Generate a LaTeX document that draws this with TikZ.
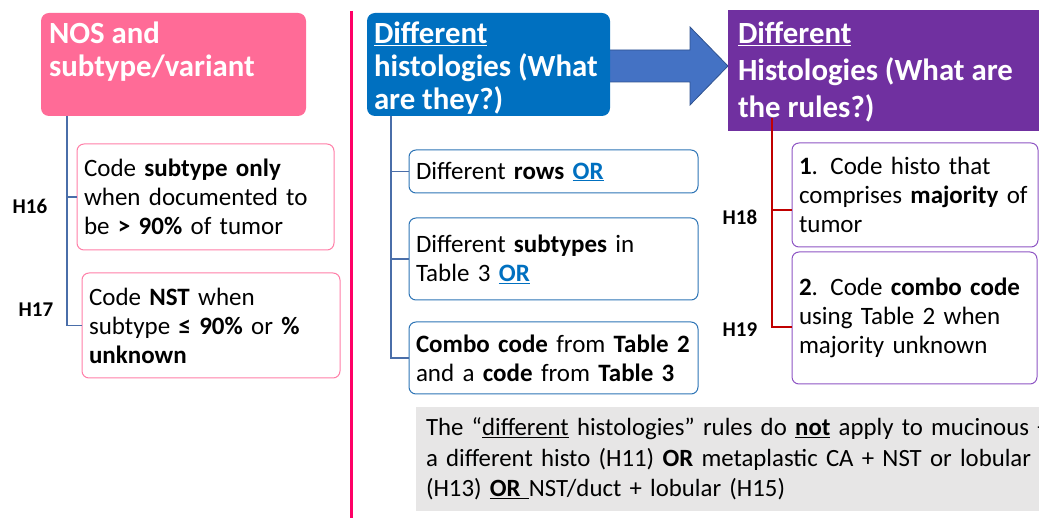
\documentclass[tikz,border=0pt]{standalone}
\usepackage{fontspec}
\setmainfont{Carlito}
\usetikzlibrary{calc}
\definecolor{pinkhdr}{HTML}{FF6B97}
\definecolor{pinkline}{HTML}{FF7FA8}
\definecolor{divider}{HTML}{FF0066}
\definecolor{bluehdr}{HTML}{0070C0}
\definecolor{blueline}{HTML}{2E75B6}
\definecolor{arrowblue}{HTML}{4472C4}
\definecolor{arrowedge}{HTML}{2F528F}
\definecolor{purplehdr}{HTML}{7030A0}
\definecolor{purpleline}{HTML}{8E55C4}
\definecolor{connblue}{HTML}{4A6EA9}
\definecolor{connred}{HTML}{C00000}
\definecolor{notegray}{HTML}{E7E6E6}
\definecolor{orblue}{HTML}{0070C0}
\begin{document}
\begin{tikzpicture}[x=1pt,y=-1pt,
  every node/.style={inner sep=0pt, outer sep=0pt},
  bodyfont/.style={font=\fontsize{25}{29}\selectfont},
  box/.style={draw, line width=1pt, fill=white, rounded corners=7pt, anchor=north west, align=left, inner xsep=7pt, bodyfont},
  pinkbox/.style={box, draw=pinkline},
  bluebox/.style={box, draw=blueline},
  purplebox/.style={box, draw=purpleline},
  hdrtext/.style={anchor=north west, align=left, text=white, font=\fontsize{30.8}{33}\selectfont\bfseries},
  rulelabel/.style={font=\fontsize{21}{24}\selectfont\bfseries},
  conn/.style={draw=connblue, line width=1.3pt},
  redconn/.style={draw=connred, line width=2.4pt},
]
\useasboundingbox (0,0) rectangle (1039,518);

% divider
\draw[line width=3pt, draw=divider] (351.5,11) -- (351.5,518);

% big arrow
\path[fill=arrowblue, draw=arrowedge, line width=0.8pt]
  (600,50) -- (690,50) -- (690,27) -- (728,66) -- (690,105) -- (690,82) -- (600,82) -- cycle;

% headers
\node[fill=pinkhdr, rounded corners=8pt, minimum width=265pt, minimum height=103pt, anchor=north west] (nos) at (41,13) {};
\node[hdrtext] (nost) at (49,22) {NOS and\\subtype/variant};

\node[fill=bluehdr, rounded corners=8pt, minimum width=243pt, minimum height=103pt, anchor=north west] (dh) at (367,13) {};
\node[hdrtext] (dht) at (374,22) {\underline{Different}\\histologies (What\\are they?)};

\node[fill=purplehdr, minimum width=320pt, minimum height=121pt, anchor=north west] (dr) at (728,10) {};
\node[hdrtext, font=\fontsize{30.8}{37}\selectfont\bfseries] (drt) at (738,22) {\underline{Different}\\Histologies (What are\\the rules?)};

% left boxes
\node[pinkbox, minimum width=257pt, minimum height=106pt, text width=243pt] (h16) at (77,144)
  {Code \textbf{subtype only}\\when documented to\\be \textbf{> 90\%} of tumor};
\node[pinkbox, minimum width=258pt, minimum height=105pt, text width=244pt] (h17) at (82,273)
  {Code \textbf{NST} when\\subtype \textbf{≤ 90\%} or \textbf{\%}\\\textbf{unknown}};

\draw[conn] ($(nos.south west)+(26,0)$) |- (h16.west);
\draw[conn] ($(nos.south west)+(26,0)$) |- (h17.west);

\node[rulelabel] (l16) at (30,206) {H16};
\node[rulelabel] (l17) at (36,310) {H17};

% middle boxes
\node[bluebox, minimum width=289pt, minimum height=43pt, text width=275pt] (r1) at (409,150)
  {Different \textbf{rows} \textcolor{orblue}{\textbf{\underline{OR}}}};
\node[bluebox, minimum width=289pt, minimum height=82pt, text width=275pt] (r2) at (409,218)
  {Different \textbf{subtypes} in\\Table 3 \textcolor{orblue}{\textbf{\underline{OR}}}};
\node[bluebox, minimum width=289pt, minimum height=72pt, text width=275pt] (r3) at (409,322)
  {\textbf{Combo code} from \textbf{Table 2}\\and a \textbf{code} from \textbf{Table 3}};

\draw[conn] ($(dh.south west)+(24,0)$) |- (r1.west);
\draw[conn] ($(dh.south west)+(24,0)$) |- (r2.west);
\draw[conn] ($(dh.south west)+(24,0)$) |- (r3.west);

% right boxes
\node[purplebox, minimum width=246pt, minimum height=104pt, text width=232pt] (p1) at (792,143)
  {\textbf{1}. Code histo that\\comprises \textbf{majority} of\\tumor};
\node[purplebox, minimum width=245pt, minimum height=132pt, text width=231pt] (p2) at (792,252)
  {\textbf{2}. Code \textbf{combo code}\\using Table 2 when\\majority unknown};

\draw[redconn] ($(dr.south west)+(44,-13)$) |- ($(p1.west)+(0,15)$);
\draw[redconn] ($(dr.south west)+(44,-13)$) |- ($(p2.west)+(0,9)$);

\node[rulelabel] (l18) at (740,217) {H18};
\node[rulelabel] (l19) at (740,330) {H19};

% note
\node[fill=notegray, anchor=north west, minimum width=700pt, minimum height=104pt, text width=680pt, inner xsep=10pt, align=left, font=\fontsize{24.8}{30.5}\selectfont] (note) at (416,407)
  {The “\underline{different} histologies” rules do \textbf{\underline{not}} apply to mucinous +\\
   a different histo (H11) \textbf{OR} metaplastic CA + NST or lobular\\
   (H13) \textbf{\underline{OR\ }}NST/duct + lobular (H15)};
\end{tikzpicture}
\end{document}
